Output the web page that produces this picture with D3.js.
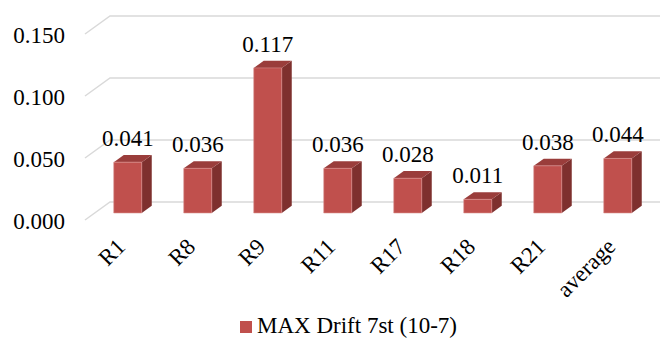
<!DOCTYPE html>
<html>
<head>
<meta charset="utf-8">
<script src="https://cdn.jsdelivr.net/npm/d3@7"></script>
<style>
  html, body { margin: 0; padding: 0; background: #fff; }
  svg { display: block; }
  svg text { font-family: "Times New Roman", "Liberation Serif", Tinos, "DejaVu Serif", serif !important; }
</style>
</head>
<body>
<svg id="chart" width="660" height="338"></svg>
<script>
const categories = ["R1", "R8", "R9", "R11", "R17", "R18", "R21", "average"];
const values = [0.041, 0.036, 0.117, 0.036, 0.028, 0.011, 0.038, 0.044];
const yTicks = [0, 0.05, 0.1, 0.15];
const seriesName = "MAX Drift 7st (10-7)";

const W = 660, H = 338;
const FONT = 23;
const colors = { front: "#C0504D", top: "#9A3D3B", side: "#7E302E", edge: "#D98F8D", grid: "#D9D9D9" };

// Oblique 3D projection: depth 0 = front plane, depth 1 = back wall
const DEPTH_X = 25, DEPTH_Y = -18;
const barDepth0 = 0.39, barDepth1 = 0.79;

const svg = d3.select("#chart");

// front-plane scales
const y = d3.scaleLinear().domain([0, 0.15]).range([220, 34]);
const x = d3.scaleBand().domain(categories).range([83, 643]).paddingInner(0.6).paddingOuter(0.3);

const proj = (px, v, d) => [px + DEPTH_X * d, y(v) + DEPTH_Y * d];

// gridlines: floor diagonal + back wall line
const grid = svg.append("g").attr("stroke", colors.grid).attr("stroke-width", 1.5).attr("fill", "none");
const left = x.range()[0] + 2;
yTicks.forEach(t => {
  const a = proj(left, t, 0), b = proj(left, t, 1);
  grid.append("path").attr("d", `M${a[0]},${a[1]}L${b[0]},${b[1]}L${W},${b[1]}`);
});

// y axis labels on the front plane
const yAxis = d3.axisLeft(y).tickValues(yTicks).tickFormat(d3.format(".3f")).tickSize(0).tickPadding(0);
const ya = svg.append("g").attr("transform", "translate(65,0)").call(yAxis)
  .attr("font-family", null).attr("font-size", FONT);
ya.select(".domain").remove();
ya.selectAll("text").attr("fill", "#000").attr("dy", "0.35em");

// bars
const bars = svg.append("g").selectAll("g").data(categories.map((c, i) => ({ c, v: values[i] }))).join("g");
bars.each(function (d) {
  const g = d3.select(this);
  const x0 = x(d.c), x1 = x(d.c) + x.bandwidth();
  const f00 = proj(x0, 0, barDepth0), f10 = proj(x1, 0, barDepth0);
  const f0v = proj(x0, d.v, barDepth0), f1v = proj(x1, d.v, barDepth0);
  const b0v = proj(x0, d.v, barDepth1), b1v = proj(x1, d.v, barDepth1), b10 = proj(x1, 0, barDepth1);
  const pts = p => p.map(q => q.join(",")).join(" ");
  g.append("polygon").attr("points", pts([f10, f1v, b1v, b10])).attr("fill", colors.side);
  g.append("polygon").attr("points", pts([f0v, b0v, b1v, f1v])).attr("fill", colors.top);
  g.append("polygon").attr("points", pts([f00, f0v, f1v, f10])).attr("fill", colors.front)
    .attr("stroke", colors.edge).attr("stroke-width", 0.6);
  // value label
  const cx = (f0v[0] + f1v[0]) / 2;
  g.append("text").attr("x", cx).attr("y", b0v[1] - 9).attr("text-anchor", "middle")
    .attr("font-size", FONT).attr("fill", "#000").text(d3.format(".3f")(d.v));
});

// category labels, rotated
svg.append("g").selectAll("text").data(categories).join("text")
  .attr("transform", c => {
    const p = proj(x(c) + x.bandwidth() / 2, 0, barDepth0);
    return `translate(${p[0] - 1},248) rotate(-45)`;
  })
  .attr("text-anchor", "end").attr("font-size", FONT).attr("fill", "#000").text(c => c);

// legend
const lg = svg.append("g").attr("transform", "translate(240,321)");
lg.append("rect").attr("width", 12).attr("height", 12).attr("fill", colors.front);
lg.append("text").attr("x", 17).attr("y", 12).attr("font-size", FONT).attr("fill", "#000").text(seriesName);
</script>
</body>
</html>
